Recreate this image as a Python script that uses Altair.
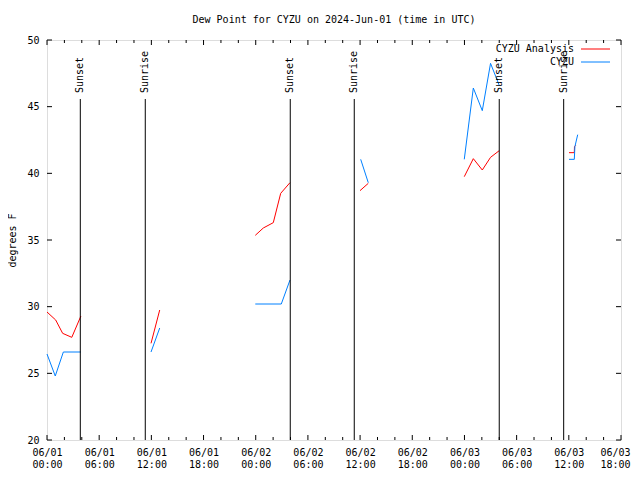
import altair as alt
import pandas as pd
import json

# ---- data (hours since 2024-06-01 00:00 UTC) ----
ana_hours = [[0, 1.0, 1.8, 2.85, 3.9], [11.96, 12.96], [23.95, 24.87, 26.02, 26.87, 27.94],
             [35.99, 36.94], [47.98, 49.02, 50.05, 51.0, 52.0], [60.02, 60.63, 60.65, 60.8]]
ana_vals = [[29.6, 29.0, 28.0, 27.7, 29.3], [27.25, 29.75], [35.35, 35.9, 36.3, 38.5, 39.3],
            [38.7, 39.25], [39.75, 41.1, 40.25, 41.2, 41.7], [41.55, 41.55, 42.0, 42.1]]
obs_hours = [[0, 0.95, 1.88, 3.9], [11.96, 12.96], [23.95, 26.94, 27.94],
             [36.07, 36.94], [47.98, 49.02, 50.05, 51.0, 52.0], [60.02, 60.63, 60.7, 61.02]]
obs_vals = [[26.45, 24.8, 26.6, 26.6], [26.6, 28.4], [30.2, 30.2, 32.0],
            [41.05, 39.3], [41.05, 46.4, 44.7, 48.25, 46.6], [41.05, 41.05, 42.0, 42.9]]

event_names = ["Sunset", "Sunrise", "Sunset", "Sunrise", "Sunset", "Sunrise"]
event_hours = [3.83, 11.3, 27.97, 35.33, 52.0, 59.41]

x_tick_hours = [0, 6, 12, 18, 24, 30, 36, 42, 48, 54, 60, 66]
x_tick_dates = ["06/01", "06/01", "06/01", "06/01", "06/02", "06/02",
                "06/02", "06/02", "06/03", "06/03", "06/03", "06/03"]
x_tick_times = ["00:00", "06:00", "12:00", "18:00", "00:00", "06:00",
                "12:00", "18:00", "00:00", "06:00", "12:00", "18:00"]
x_minor_hours = [h for h in range(0, 67, 2) if h % 6 != 0]
y_ticks = [20, 25, 30, 35, 40, 45, 50]

series_names = ["CYZU Analysis", "CYZU"]
series_colors = ["#ff0000", "#0080ff"]

rows = []
for i, (hs, vs) in enumerate(zip(ana_hours, ana_vals)):
    for h, v in zip(hs, vs):
        rows.append({"hour": h, "value": v, "series": series_names[0], "seg": f"a{i}"})
for i, (hs, vs) in enumerate(zip(obs_hours, obs_vals)):
    for h, v in zip(hs, vs):
        rows.append({"hour": h, "value": v, "series": series_names[1], "seg": f"o{i}"})
df = pd.DataFrame(rows)
ev = pd.DataFrame({"hour": event_hours, "name": event_names})
xmaj = pd.DataFrame({"hour": x_tick_hours})
xmin = pd.DataFrame({"hour": x_minor_hours})
yt = pd.DataFrame({"value": y_ticks})

W, H = 574, 400
FONT = "DejaVu Sans Mono"

xscale = alt.Scale(domain=[0, 66], nice=False, zero=False)
yscale = alt.Scale(domain=[20, 50], nice=False, zero=False)

label_expr = (f"[{json.dumps(x_tick_dates)}[round(datum.value/6)], "
              f"{json.dumps(x_tick_times)}[round(datum.value/6)]]")

xaxis = alt.Axis(values=x_tick_hours, labelExpr=label_expr, title=None, ticks=False,
                 domain=False, grid=False, labelFont=FONT, labelFontSize=10,
                 labelColor="black", labelPadding=7, labelLineHeight=12,
                 labelFlush=False, labelOverlap=False, labelBaseline="top",
                 labelOffset={"condition": {"test": "datum.value >= 66", "value": -6}, "value": 0})
yaxis = alt.Axis(values=y_ticks, title="degrees F", ticks=False, domain=False, grid=False,
                 labelFont=FONT, labelFontSize=10, labelColor="black", labelPadding=8,
                 titleFont=FONT, titleFontSize=10, titleFontWeight="normal",
                 titleColor="black", titlePadding=9)

X = alt.X("hour:Q", scale=xscale, axis=xaxis)
Y = alt.Y("value:Q", scale=yscale, axis=yaxis)

lines = alt.Chart(df).mark_line(strokeWidth=1).encode(
    x=X, y=Y,
    color=alt.Color("series:N", scale=alt.Scale(domain=series_names, range=series_colors), legend=None),
    detail="seg:N",
)

ev_rules = alt.Chart(ev).mark_rule(color="black", strokeWidth=1).encode(
    x=alt.X("hour:Q", scale=xscale), y=alt.value(59), y2=alt.value(H))
ev_text = alt.Chart(ev).mark_text(angle=270, align="left", baseline="middle",
                                  font=FONT, fontSize=10, color="black").encode(
    x=alt.X("hour:Q", scale=xscale), y=alt.value(53), text="name:N")

def xt(data, y0, y1):
    return alt.Chart(data).mark_rule(color="black", strokeWidth=1).encode(
        x=alt.X("hour:Q", scale=xscale), y=alt.value(y0), y2=alt.value(y1))

def ytk(x0, x1):
    return alt.Chart(yt).mark_rule(color="black", strokeWidth=1).encode(
        y=alt.Y("value:Q", scale=yscale), x=alt.value(x0), x2=alt.value(x1))

ticks = [xt(xmaj, H, H - 5), xt(xmin, H, H - 3), xt(xmaj, 0, 5), xt(xmin, 0, 3),
         ytk(0, 5), ytk(W - 5, W)]

legend_layers = []
for name, color, yy in zip(series_names, series_colors, [9, 22]):
    d = pd.DataFrame({"series": [name]})
    legend_layers.append(alt.Chart(d).mark_text(align="right", baseline="middle", font=FONT,
                                                fontSize=10, color="black").encode(
        text="series:N", x=alt.value(527), y=alt.value(yy)))
    legend_layers.append(alt.Chart(d).mark_rule(strokeWidth=1, color=color).encode(
        x=alt.value(534), x2=alt.value(563), y=alt.value(yy)))

chart = alt.layer(lines, ev_rules, ev_text, *ticks, *legend_layers).properties(
    width=W, height=H,
    title=alt.Title("Dew Point for CYZU on 2024-Jun-01 (time in UTC)", font=FONT,
                    fontSize=10, fontWeight="normal", color="black", offset=10, anchor="middle"),
    autosize=alt.AutoSizeParams(type="none"),
    padding={"left": 39, "top": 32, "right": 11, "bottom": 32},
).configure_view(stroke="black", strokeWidth=1).configure(background="white")

chart.save("out.html", embed_options={"renderer": "svg", "actions": False})
